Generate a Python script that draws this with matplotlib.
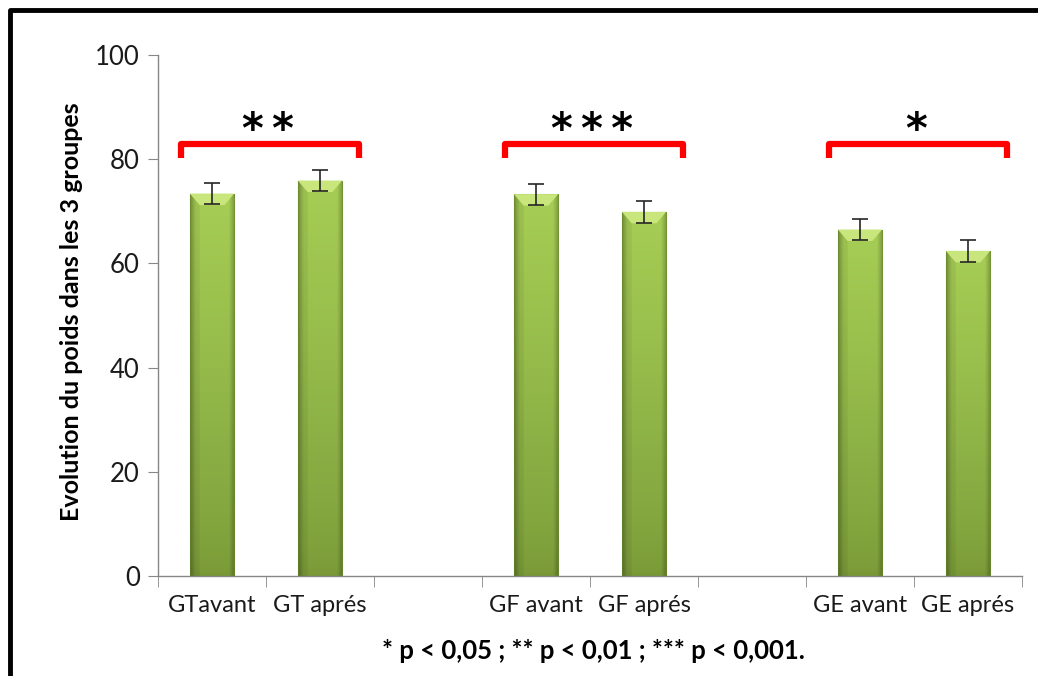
import matplotlib
matplotlib.use("Agg")
import matplotlib.pyplot as plt
import numpy as np
from matplotlib.colors import LinearSegmentedColormap
from matplotlib.patches import Polygon, Rectangle

# ---- data ----
categories = ["GTavant", "GT aprés", "", "GF avant", "GF aprés", "", "GE avant", "GE aprés"]
values = [73.4, 75.9, None, 73.3, 69.9, None, 66.5, 62.4]
errors = [2.0, 1.95, None, 2.0, 2.15, None, 2.1, 2.15]
pairs = [(0, 1), (3, 4), (6, 7)]
stars = ["**", "***", "*"]
yticks = [0, 20, 40, 60, 80, 100]
ylabel = "Evolution du poids dans les 3 groupes"
footnote = "* p < 0,05 ; ** p < 0,01 ; *** p < 0,001."

FONT = "Lato"
W, H, DPI = 1038, 676, 100
fig = plt.figure(figsize=(W / DPI, H / DPI), dpi=DPI)
ax = fig.add_axes([158 / W, 1 - 576 / H, (1022 - 158) / W, (576 - 55) / H])

n = len(categories)
ax.set_xlim(-0.5, n - 0.5)
ax.set_ylim(0, 100)

# gradient image for bars
cmap_v = LinearSegmentedColormap.from_list("g", ["#789836", "#8aae44", "#a6cd54"])
grad_y = np.linspace(0, 1, 200)[:, None]
grad_x = np.linspace(-1, 1, 60)[None, :]
base = grad_y ** 0.6 * np.ones_like(grad_x)
rgba = cmap_v(base)
edge = np.clip((np.abs(grad_x) - 0.75) / 0.25, 0, 1)
rgba[..., :3] = rgba[..., :3] * (1 - 0.25 * edge)[..., None]

bar_w = 0.41
xs = [i for i, v in enumerate(values) if v is not None]
vals = [values[i] for i in xs]
errs = [errors[i] for i in xs]
bars = ax.bar(xs, vals, width=bar_w, color="none", edgecolor="none", zorder=2)
for b in bars:
    x0, w, h = b.get_x(), b.get_width(), b.get_height()
    im = ax.imshow(rgba, extent=(x0, x0 + w, 0, h), origin="lower",
                   aspect="auto", zorder=2, interpolation="bilinear")
    im.set_clip_path(b)
    ax.add_patch(Rectangle((x0, 0), w, h, fill=False, edgecolor="#6f8f30",
                           lw=0.8, alpha=0.6, zorder=3))
    bev_h = 2.2
    bev_w = w * 0.22
    ax.add_patch(Polygon([[x0, h], [x0 + w, h], [x0 + w - bev_w, h - bev_h],
                          [x0 + bev_w, h - bev_h]], closed=True,
                         facecolor="#c8e67c", edgecolor="none", zorder=3))
    ax.add_patch(Polygon([[x0, h], [x0 + bev_w, h - bev_h], [x0 + bev_w, 0], [x0, 0]],
                         closed=True, facecolor="#000000", alpha=0.06,
                         edgecolor="none", zorder=3))

ax.errorbar(xs, vals, yerr=errs, fmt="none", ecolor="#262626", elinewidth=1.2,
            capsize=6, capthick=1.2, zorder=4)

# significance brackets
for (a, b_), s in zip(pairs, stars):
    left = a - 0.29
    right = b_ + 0.36
    top = 83.0
    bot = 80.3
    ax.plot([left, left, right, right], [bot, top, top, bot], color="#ff0000",
            lw=4.5, solid_joinstyle="round", solid_capstyle="butt", zorder=5,
            clip_on=False)
    ax.text((left + right) / 2 - 0.02, 85.5, "\u2009".join(s), ha="center",
            va="center", fontsize=30, fontweight="bold", family="DejaVu Sans",
            color="black")

# axes styling
for side in ["top", "right"]:
    ax.spines[side].set_visible(False)
for side in ["left", "bottom"]:
    ax.spines[side].set_color("#868686")
    ax.spines[side].set_linewidth(1.0)

ax.set_yticks(yticks)
ax.set_yticklabels([str(t) for t in yticks], fontsize=18.5, family=FONT, color="#1a1a1a")
ax.tick_params(axis="y", length=7, color="#868686", pad=6)

ax.set_xticks(np.arange(n))
ax.set_xticklabels(categories, fontsize=17, family=FONT, color="#1a1a1a")
ax.tick_params(axis="x", length=0, pad=14)
ax.set_xticks(np.arange(-0.5, n), minor=True)
ax.tick_params(axis="x", which="minor", length=8, color="#868686")

fig.text(72 / W, 1 - 312 / H, ylabel, rotation=90, ha="center", va="center",
         fontsize=18, fontweight="bold", family=FONT, color="black")
fig.text(593 / W, 1 - 651 / H, footnote, ha="center", va="center",
         fontsize=18.5, fontweight="bold", family=FONT, color="black")

# outer black frame (top and left)
fig.add_artist(plt.Line2D([10 / W, 10 / W, 1.0], [0.0, 1 - 10 / H, 1 - 10 / H],
                          color="black", lw=3.5, transform=fig.transFigure))

fig.savefig("out.png", dpi=DPI, facecolor="white")
